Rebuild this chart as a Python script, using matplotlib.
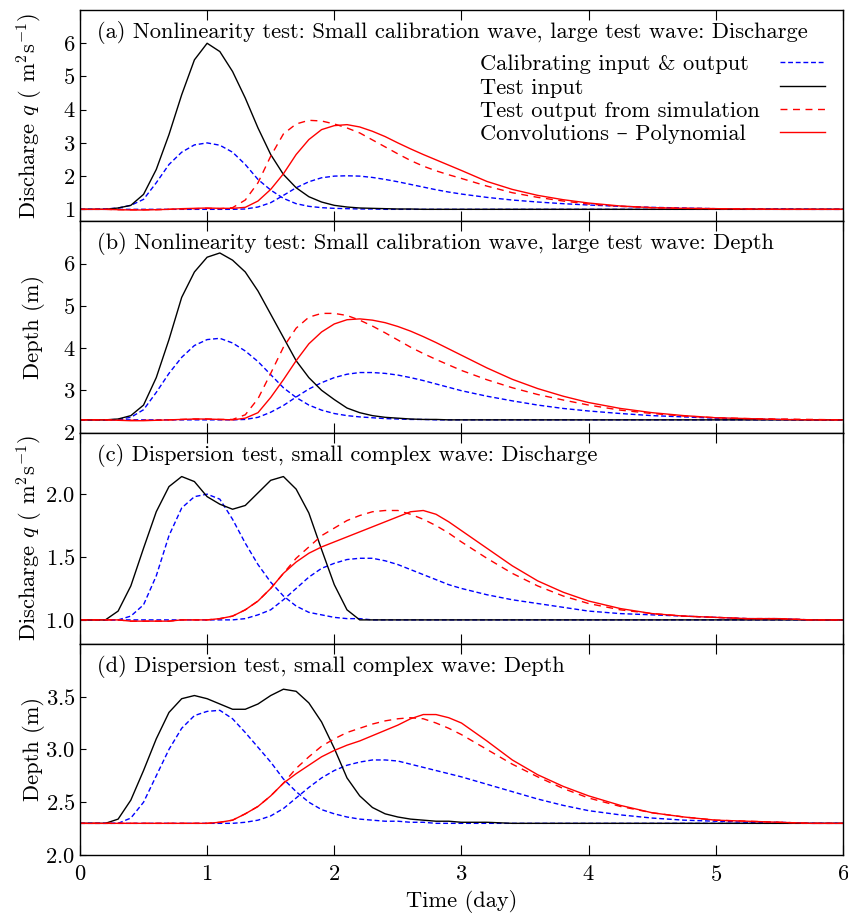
import matplotlib
matplotlib.use("Agg")
import matplotlib.pyplot as plt

plt.rcParams['font.family'] = ['cmr10', 'DejaVu Serif']
plt.rcParams['mathtext.fontset'] = 'cm'
plt.rcParams['axes.formatter.use_mathtext'] = True
plt.rcParams['font.size'] = 16.2

# time grid (day)
T = [0.0, 0.1, 0.2, 0.3, 0.4, 0.5, 0.6, 0.7, 0.8, 0.9,
     1.0, 1.1, 1.2, 1.3, 1.4, 1.5, 1.6, 1.7, 1.8, 1.9,
     2.0, 2.1, 2.2, 2.3, 2.4, 2.5, 2.6, 2.7, 2.8, 2.9,
     3.0, 3.2, 3.4, 3.6, 3.8, 4.0,
     4.25, 4.5, 4.75, 5.0, 5.25, 5.5, 5.75, 6.0]

# (a) nonlinearity, discharge
a_cal_in = [1.00, 1.00, 1.01, 1.04, 1.12, 1.30, 1.80, 2.35, 2.72, 2.94,
            3.00, 2.93, 2.72, 2.35, 1.90, 1.58, 1.33, 1.17, 1.09, 1.05,
            1.03, 1.02, 1.01, 1.01, 1.00, 1.00, 1.00, 1.00, 1.00, 1.00] + [1.00] * 14
a_cal_out = [1.00] * 10 + \
            [1.00, 1.00, 1.00, 1.01, 1.07, 1.20, 1.42, 1.65, 1.83, 1.95,
             2.00, 2.01, 2.00, 1.96, 1.90, 1.83, 1.75, 1.67, 1.59, 1.52,
             1.46, 1.36, 1.28, 1.22, 1.17, 1.13,
             1.09, 1.06, 1.04, 1.02, 1.01, 1.01, 1.00, 1.00]
a_test_in = [1.00, 1.00, 1.00, 1.04, 1.12, 1.45, 2.20, 3.25, 4.45, 5.50,
             6.00, 5.75, 5.15, 4.35, 3.45, 2.65, 2.05, 1.65, 1.38, 1.22,
             1.12, 1.07, 1.04, 1.03, 1.02, 1.01, 1.01, 1.00, 1.00, 1.00] + [1.00] * 14
a_sim = [1.00, 1.00, 1.00, 0.99, 0.99, 0.99, 0.99, 1.00, 1.01, 1.02,
         1.03, 1.02, 1.05, 1.28, 1.80, 2.60, 3.27, 3.57, 3.68, 3.66,
         3.57, 3.45, 3.30, 3.09, 2.88, 2.67, 2.47, 2.30, 2.16, 2.04,
         1.93, 1.70, 1.50, 1.36, 1.25, 1.16,
         1.09, 1.05, 1.03, 1.02, 1.01, 1.00, 1.00, 1.00]
a_conv = [1.00, 1.00, 1.00, 0.99, 0.98, 0.98, 0.99, 1.00, 1.02, 1.03,
          1.04, 1.03, 1.03, 1.06, 1.25, 1.60, 2.07, 2.65, 3.10, 3.40,
          3.52, 3.55, 3.48, 3.35, 3.19, 3.00, 2.82, 2.65, 2.49, 2.33,
          2.17, 1.84, 1.60, 1.42, 1.29, 1.19,
          1.10, 1.05, 1.03, 1.02, 1.01, 1.00, 1.00, 1.00]

# (b) nonlinearity, depth
b_cal_in = [2.30, 2.30, 2.30, 2.31, 2.36, 2.54, 2.95, 3.40, 3.78, 4.06,
            4.20, 4.23, 4.12, 3.93, 3.68, 3.37, 3.06, 2.83, 2.65, 2.53,
            2.45, 2.40, 2.37, 2.35, 2.33, 2.32, 2.31, 2.31, 2.30, 2.30] + [2.30] * 14
b_cal_out = [2.30] * 10 + \
            [2.30, 2.30, 2.30, 2.31, 2.36, 2.48, 2.64, 2.84, 3.03, 3.18,
             3.30, 3.38, 3.42, 3.42, 3.40, 3.36, 3.30, 3.23, 3.15, 3.07,
             2.99, 2.86, 2.75, 2.65, 2.57, 2.51,
             2.45, 2.40, 2.37, 2.34, 2.32, 2.31, 2.30, 2.30]
b_test_in = [2.30, 2.30, 2.30, 2.32, 2.40, 2.65, 3.30, 4.20, 5.20, 5.80,
             6.15, 6.25, 6.08, 5.80, 5.35, 4.80, 4.25, 3.70, 3.30, 3.00,
             2.78, 2.58, 2.47, 2.40, 2.36, 2.34, 2.32, 2.31, 2.31, 2.30] + [2.30] * 14
b_sim = [2.30, 2.30, 2.30, 2.29, 2.29, 2.29, 2.29, 2.30, 2.31, 2.32,
         2.32, 2.31, 2.31, 2.42, 2.80, 3.40, 4.02, 4.47, 4.73, 4.82,
         4.82, 4.77, 4.66, 4.52, 4.36, 4.19, 4.02, 3.87, 3.73, 3.60,
         3.47, 3.25, 3.06, 2.90, 2.77, 2.65,
         2.53, 2.45, 2.39, 2.35, 2.33, 2.32, 2.31, 2.30]
b_conv = [2.30, 2.30, 2.30, 2.29, 2.28, 2.28, 2.29, 2.30, 2.31, 2.32,
          2.32, 2.31, 2.30, 2.34, 2.47, 2.83, 3.25, 3.70, 4.10, 4.38,
          4.57, 4.67, 4.69, 4.66, 4.60, 4.51, 4.40, 4.27, 4.13, 3.98,
          3.83, 3.53, 3.26, 3.04, 2.86, 2.71,
          2.57, 2.47, 2.40, 2.35, 2.33, 2.31, 2.30, 2.30]

# (c) dispersion, discharge
c_cal_in = [1.00, 1.00, 1.00, 1.00, 1.03, 1.12, 1.35, 1.67, 1.89, 1.98,
            2.00, 1.96, 1.80, 1.61, 1.44, 1.30, 1.19, 1.11, 1.06, 1.04,
            1.02, 1.01, 1.01, 1.00, 1.00, 1.00, 1.00, 1.00, 1.00, 1.00] + [1.00] * 14
c_cal_out = [1.00] * 10 + \
            [1.00, 1.00, 1.00, 1.01, 1.04, 1.08, 1.16, 1.25, 1.34, 1.41,
             1.45, 1.48, 1.49, 1.49, 1.47, 1.44, 1.40, 1.36, 1.32, 1.28,
             1.25, 1.20, 1.16, 1.13, 1.10, 1.07,
             1.05, 1.04, 1.03, 1.02, 1.01, 1.01, 1.00, 1.00]
c_test_in = [1.00, 1.00, 1.00, 1.07, 1.27, 1.57, 1.86, 2.06, 2.14, 2.10,
             1.98, 1.92, 1.88, 1.91, 2.01, 2.11, 2.14, 2.04, 1.85, 1.56,
             1.28, 1.08, 1.00, 1.00, 1.00, 1.00, 1.00, 1.00, 1.00, 1.00] + [1.00] * 14
c_sim = [1.00, 1.00, 1.00, 1.00, 0.99, 0.99, 0.99, 0.99, 1.00, 1.00,
         1.00, 1.01, 1.03, 1.08, 1.15, 1.25, 1.37, 1.49, 1.58, 1.67,
         1.73, 1.79, 1.83, 1.86, 1.87, 1.87, 1.84, 1.80, 1.75, 1.69,
         1.62, 1.49, 1.37, 1.27, 1.19, 1.13,
         1.08, 1.05, 1.03, 1.02, 1.01, 1.01, 1.00, 1.00]
c_conv = [1.00, 1.00, 1.00, 1.00, 0.99, 0.99, 0.99, 0.99, 1.00, 1.00,
          1.00, 1.01, 1.03, 1.08, 1.15, 1.25, 1.37, 1.46, 1.53, 1.58,
          1.62, 1.66, 1.70, 1.74, 1.78, 1.82, 1.86, 1.87, 1.84, 1.78,
          1.71, 1.57, 1.43, 1.31, 1.22, 1.15,
          1.09, 1.05, 1.03, 1.02, 1.01, 1.01, 1.00, 1.00]

# (d) dispersion, depth
d_cal_in = [2.30, 2.30, 2.30, 2.30, 2.35, 2.50, 2.75, 3.00, 3.20, 3.32,
            3.36, 3.37, 3.29, 3.16, 3.02, 2.88, 2.72, 2.60, 2.50, 2.43,
            2.39, 2.36, 2.34, 2.33, 2.32, 2.32, 2.31, 2.31, 2.30, 2.30] + [2.30] * 14
d_cal_out = [2.30] * 10 + \
            [2.30, 2.30, 2.30, 2.31, 2.33, 2.37, 2.44, 2.54, 2.64, 2.73,
             2.80, 2.85, 2.88, 2.90, 2.90, 2.89, 2.86, 2.83, 2.80, 2.77,
             2.74, 2.67, 2.60, 2.53, 2.47, 2.42,
             2.38, 2.35, 2.33, 2.32, 2.31, 2.31, 2.30, 2.30]
d_test_in = [2.30, 2.30, 2.30, 2.34, 2.52, 2.80, 3.10, 3.35, 3.48, 3.51,
             3.48, 3.43, 3.38, 3.38, 3.43, 3.51, 3.57, 3.55, 3.44, 3.26,
             3.01, 2.73, 2.56, 2.45, 2.39, 2.36, 2.34, 2.33, 2.32, 2.32,
             2.31, 2.31, 2.30, 2.30, 2.30, 2.30] + [2.30] * 8
d_sim = [2.30] * 10 + \
        [2.30, 2.31, 2.33, 2.39, 2.46, 2.56, 2.68, 2.82, 2.93, 3.03,
         3.10, 3.16, 3.20, 3.24, 3.27, 3.29, 3.30, 3.29, 3.25, 3.20,
         3.14, 3.00, 2.86, 2.74, 2.63, 2.54,
         2.46, 2.40, 2.36, 2.33, 2.32, 2.31, 2.30, 2.30]
d_conv = [2.30] * 10 + \
         [2.30, 2.31, 2.33, 2.39, 2.46, 2.56, 2.68, 2.77, 2.85, 2.93,
          2.99, 3.04, 3.08, 3.13, 3.18, 3.23, 3.29, 3.33, 3.33, 3.30,
          3.25, 3.08, 2.90, 2.76, 2.65, 2.56,
          2.47, 2.40, 2.36, 2.33, 2.32, 2.31, 2.30, 2.30]

titles = ["(a) Nonlinearity test: Small calibration wave, large test wave: Discharge",
          "(b) Nonlinearity test: Small calibration wave, large test wave: Depth",
          "(c) Dispersion test, small complex wave: Discharge",
          "(d) Dispersion test, small complex wave: Depth"]
q_label = r"Discharge $q$ ( m$^2$s$^{-1}$)"
ylabels = [q_label, "Depth (m)", q_label, "Depth (m)"]
ylims = [(0.64, 7.0), (2.0, 7.0), (0.81, 2.49), (2.0, 4.0)]
yticks = [[1, 2, 3, 4, 5, 6], [2, 3, 4, 5, 6], [1.0, 1.5, 2.0], [2.0, 2.5, 3.0, 3.5]]
legend_labels = ["Calibrating input & output", "Test input",
                 "Test output from simulation", "Convolutions – Polynomial"]
panels = [(a_cal_in, a_cal_out, a_test_in, a_sim, a_conv),
          (b_cal_in, b_cal_out, b_test_in, b_sim, b_conv),
          (c_cal_in, c_cal_out, c_test_in, c_sim, c_conv),
          (d_cal_in, d_cal_out, d_test_in, d_sim, d_conv)]

fig, axes = plt.subplots(4, 1, figsize=(8.48, 9.13), dpi=100, sharex=True)
fig.subplots_adjust(left=0.0943, right=0.994, top=0.989, bottom=0.0635, hspace=0)

blue_dash = (0, (3.5, 2.0))
red_dash = (0, (5.0, 4.0))

leg = None
for i, ax in enumerate(axes):
    cal_in, cal_out, test_in, sim, conv = panels[i]
    l1, = ax.plot(T, cal_in, color='#0000ff', lw=1.0, linestyle=blue_dash)
    ax.plot(T, cal_out, color='#0000ff', lw=1.0, linestyle=blue_dash)
    l2, = ax.plot(T, test_in, color='black', lw=1.0)
    l3, = ax.plot(T, sim, color='#ff0000', lw=1.0, linestyle=red_dash)
    l4, = ax.plot(T, conv, color='#ff0000', lw=1.0)

    ax.set_xlim(0, 6)
    ax.set_ylim(*ylims[i])
    ax.set_yticks(yticks[i])
    ax.set_ylabel(ylabels[i], labelpad=0.5)
    ax.text(0.022, 0.893, titles[i], transform=ax.transAxes, va='center', ha='left')
    ax.tick_params(axis='x', direction='in', top=True, bottom=True, length=7, width=0.8, pad=7)
    ax.tick_params(axis='y', direction='in', left=True, right=False, length=4, width=0.8)
    for s in ax.spines.values():
        s.set_linewidth(1.0)

    if i == 0:
        leg = ax.legend([l1, l2, l3, l4], legend_labels,
                        loc='upper right', bbox_to_anchor=(1.0, 0.875), frameon=False,
                        markerfirst=False, handlelength=2.0, handletextpad=0.9,
                        labelspacing=0.16, borderaxespad=0.4)

axes[-1].set_xticks([0, 1, 2, 3, 4, 5, 6])
axes[-1].set_xlabel("Time (day)")
fig.align_ylabels(axes)

# left-align the legend texts (labels before handles)
fig.canvas.draw()
r = fig.canvas.get_renderer()
widths = [t.get_window_extent(r).width for t in leg.get_texts()]
maxw = max(widths)
column = leg._legend_handle_box.get_children()[0]
for box, w in zip(column.get_children(), widths):
    box.sep += (maxw - w) * 72.0 / fig.dpi

fig.savefig("out.png", dpi=100)
